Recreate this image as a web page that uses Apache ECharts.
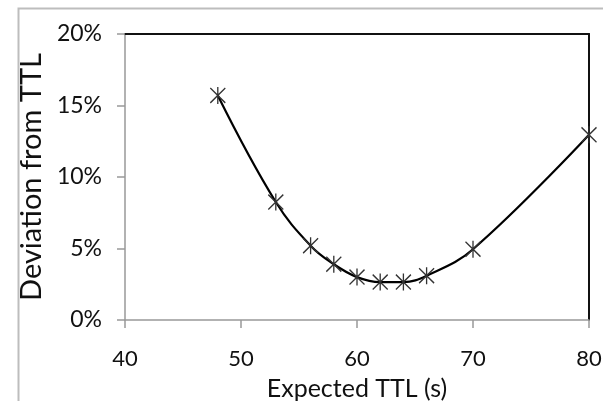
<!DOCTYPE html>
<html>
<head>
<meta charset="utf-8">
<script src="https://cdn.jsdelivr.net/npm/echarts@6/dist/echarts.min.js"></script>
<style>html,body{margin:0;padding:0;background:#fff}#c{width:603px;height:401px}</style>
</head>
<body>
<div id="c"></div>
<script>
const expectedTTL = [48, 53, 56, 58, 60, 62, 64, 66, 70, 80];
const deviationPct = [15.7, 8.25, 5.2, 3.9, 3.0, 2.65, 2.65, 3.1, 4.95, 12.95];
const xTicks = [40, 50, 60, 70, 80];
const yTicks = [0, 5, 10, 15, 20];
const xTitle = 'Expected TTL (s)';
const yTitle = 'Deviation from TTL';

const font = 'Lato, Carlito, "Liberation Sans", sans-serif';
const chart = echarts.init(document.getElementById('c'), null, {renderer: 'canvas'});
chart.setOption({
  animation: false,
  backgroundColor: '#fff',
  graphic: [{
    type: 'rect', left: 16, top: 6, shape: {x: 0, y: 0, width: 700, height: 500},
    style: {fill: 'none', stroke: '#bdbdbd', lineWidth: 2}, silent: true, z: -1
  }],
  grid: {left: 125, top: 34, right: 14, bottom: 81, containLabel: false, outerBoundsMode: 'none'},
  xAxis: [{
    type: 'value', min: xTicks[0], max: xTicks[xTicks.length - 1], interval: 10,
    name: xTitle, nameLocation: 'middle', nameGap: 56,
    nameTextStyle: {fontFamily: font, fontSize: 25, color: '#111'},
    axisLine: {show: true, lineStyle: {color: '#999', width: 1.5}},
    axisTick: {show: true, inside: false, length: 8, lineStyle: {color: '#999', width: 1.5}},
    axisLabel: {fontFamily: font, fontSize: 22, color: '#111', margin: 28},
    splitLine: {show: false}
  }, {
    type: 'value', position: 'top', min: xTicks[0], max: xTicks[xTicks.length - 1],
    axisLine: {show: true, onZero: false, lineStyle: {color: '#111', width: 2}},
    axisTick: {show: false}, axisLabel: {show: false}, splitLine: {show: false}
  }],
  yAxis: [{
    type: 'value', min: yTicks[0], max: yTicks[yTicks.length - 1], interval: 5,
    name: yTitle, nameLocation: 'middle', nameGap: 66,
    nameTextStyle: {fontFamily: font, fontSize: 29, color: '#111'},
    axisLine: {show: true, lineStyle: {color: '#999', width: 1.5}},
    axisTick: {show: true, inside: false, length: 8, lineStyle: {color: '#999', width: 1.5}},
    axisLabel: {fontFamily: font, fontSize: 23, color: '#111', margin: 23, formatter: '{value}%'},
    splitLine: {show: false}
  }, {
    type: 'value', position: 'right', min: yTicks[0], max: yTicks[yTicks.length - 1],
    axisLine: {show: true, onZero: false, lineStyle: {color: '#111', width: 2}},
    axisTick: {show: false}, axisLabel: {show: false}, splitLine: {show: false}
  }],
  series: [{
    type: 'line',
    data: expectedTTL.map((x, i) => [x, deviationPct[i]]),
    smooth: 0.4,
    lineStyle: {color: '#000', width: 2.2},
    symbol: 'path://M0,0 L12,14 M12,0 L0,14 M6,-1 L6,15',
    symbolSize: [15, 17],
    symbolKeepAspect: false,
    itemStyle: {color: 'none', borderColor: '#333', borderWidth: 1.4},
    z: 3
  }]
});
</script>
</body>
</html>
